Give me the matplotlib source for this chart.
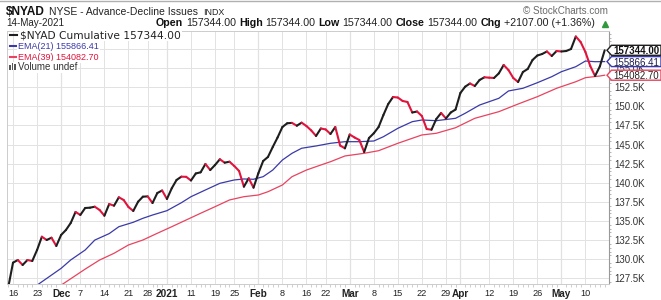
import matplotlib.pyplot as plt
import numpy as np
import pandas as pd
from matplotlib.collections import LineCollection
from matplotlib.patches import Polygon, Rectangle
from matplotlib.lines import Line2D

# trading sessions 13-Nov-2020 .. 14-May-2021
holidays = ['2020-11-26', '2020-12-25', '2021-01-01', '2021-01-18', '2021-02-15', '2021-04-02']
dates = pd.bdate_range('2020-11-13', '2021-05-14')
dates = dates[~dates.isin(pd.to_datetime(holidays))]

# $NYAD cumulative close, in thousands
close = [126.3, 129.54, 129.89, 129.24, 129.89, 129.76, 131.2, 132.94, 132.51, 132.81,
         131.73, 133.17, 133.82, 134.74, 136.18, 135.79, 136.70, 136.74, 136.87, 136.44,
         135.69, 137.22, 137.00, 138.10, 137.75, 136.83, 136.31, 137.52, 138.18, 138.22,
         137.35, 138.66, 138.99, 137.88, 139.28, 140.37, 140.80, 140.78, 140.30, 141.22,
         141.37, 142.46, 141.67, 142.33, 143.08, 142.63, 142.76, 142.20, 141.54, 139.49,
         140.59, 139.36, 141.24, 142.85, 143.38, 144.69, 145.93, 147.30, 147.79, 147.84,
         147.47, 147.87, 147.43, 146.85, 146.13, 147.11, 146.98, 146.39, 147.30, 144.88,
         144.51, 146.32, 145.93, 145.60, 144.03, 145.86, 146.48, 147.30, 148.87, 150.31,
         151.23, 151.16, 150.71, 150.58, 149.20, 149.33, 148.74, 147.04, 146.95, 148.35,
         149.14, 148.42, 149.20, 149.59, 151.75, 152.58, 153.00, 152.67, 153.46, 153.81,
         153.76, 153.72, 154.33, 155.42, 154.76, 153.72, 153.19, 154.50, 154.90, 156.07,
         156.66, 156.86, 157.19, 156.60, 157.25, 157.19, 157.25, 157.51, 159.15, 158.43,
         157.12, 155.29, 153.98, 155.237, 157.344]

# EMA(21) (session number, value in thousands)
ema21_pos = [6, 11, 13, 16, 18, 21, 23, 26, 28, 30, 33, 36, 38, 41, 44, 47, 49, 51, 53, 55,
             57, 59, 61, 64, 67, 70, 73, 76, 78, 81, 84, 86, 89, 93, 95, 98, 102, 104, 107, 110,
             113, 115, 118, 120, 122, 124]
ema21 = [126.6, 128.8, 129.9, 131.2, 132.5, 133.35, 134.25, 134.83, 135.35, 135.78,
         136.35, 137.39, 138.18, 139.06, 139.93, 140.37, 140.5, 140.46, 140.8, 141.67,
         142.98, 143.86, 144.52, 144.82, 145.17, 145.38, 145.38, 145.47, 146.03, 147.13,
         148.0, 148.22, 148.13, 148.44, 149.1, 150.18, 151.06, 152.02, 152.37, 153.1,
         153.89, 154.54, 155.2, 155.94, 155.85, 155.86641]

# EMA(39)
ema39_pos = [11, 16, 19, 22, 25, 28, 31, 34, 37, 40, 43, 46, 49, 52, 54, 57, 59, 62, 65, 67,
             70, 74, 77, 81, 86, 89, 93, 97, 102, 106, 110, 114, 118, 120, 123, 124]
ema39 = [126.6, 128.7, 129.89, 130.77, 131.86, 132.51, 133.39, 134.25, 135.13, 136.01,
         136.87, 137.75, 138.18, 138.4, 138.83, 139.71, 140.8, 141.67, 142.33, 142.76,
         143.51, 143.86, 144.2, 145.17, 146.26, 146.48, 147.21, 148.44, 149.31, 150.31,
         151.27, 152.37, 153.23, 153.76, 153.98, 154.0827]

tick_dates = ['2020-11-16', '2020-11-23', '2020-12-01', '2020-12-07', '2020-12-14', '2020-12-21',
              '2020-12-28', '2021-01-04', '2021-01-11', '2021-01-19', '2021-01-25', '2021-02-01',
              '2021-02-08', '2021-02-16', '2021-02-22', '2021-03-01', '2021-03-08', '2021-03-15',
              '2021-03-22', '2021-03-29', '2021-04-01', '2021-04-12', '2021-04-19', '2021-04-26',
              '2021-05-03', '2021-05-10']
tick_labels = ['16', '23', 'Dec', '7', '14', '21', '28', '2021', '11', '19', '25', 'Feb', '8',
               '16', '22', 'Mar', '8', '15', '22', '29', 'Apr', '12', '19', '26', 'May', '10']
bold_labels = ['Dec', '2021', 'Feb', 'Mar', 'Apr', 'May']
y_ticks = [127.5, 130.0, 132.5, 135.0, 137.5, 140.0, 142.5, 145.0, 147.5, 150.0, 152.5, 155.0, 157.5]
y_labels = ['127.5K', '130.0K', '132.5K', '135.0K', '137.5K', '140.0K', '142.5K', '145.0K',
            '147.5K', '150.0K', '152.5K', '155.0K', '']  # 157.5K sits under the close tag

W, H = 661, 300
BLACK = '#1e1e1e'
RED = '#e0143c'
BLUE = '#3a3aa8'
PINK = '#e8435f'
FONT = 'Liberation Sans'


def fx(x):
    return x / W


def fy(y):
    return 1 - y / H


fig = plt.figure(figsize=(W / 100, H / 100), dpi=100)
ax = fig.add_axes([7 / W, 16 / H, 602 / W, 253 / H])

pos = np.arange(len(dates))
pts = np.column_stack([pos, close])
segs = np.stack([pts[:-1], pts[1:]], axis=1)
cols = np.where(np.diff(close) < 0, RED, BLACK)
ax.add_collection(LineCollection(segs, colors=cols, linewidths=1.5,
                                 capstyle='round', joinstyle='round', zorder=4))
ax.plot(ema21_pos, ema21, color=BLUE, lw=0.9, zorder=3)
ax.plot(ema39_pos, ema39, color=PINK, lw=0.9, zorder=3)

ax.set_xlim(-0.25, 124.9)
ax.set_ylim(126.75, 159.87)

# x axis
tick_pos = [dates.get_loc(pd.Timestamp(d)) for d in tick_dates]
ax.set_xticks(tick_pos)
ax.set_xticklabels(tick_labels)
ax.set_xticks(pos, minor=True)
for lab in ax.get_xticklabels():
    lab.set_family(FONT)
    if lab.get_text() in bold_labels:
        lab.set_fontweight('bold')
        lab.set_fontsize(7.2)
    else:
        lab.set_fontsize(6.6)
ax.tick_params(axis='x', which='major', length=0, pad=3.5, labelcolor='#222')
ax.tick_params(axis='x', which='minor', length=1.8, color='#bbb', width=0.5)

# y axis on the right
ax.yaxis.tick_right()
ax.set_yticks(y_ticks)
ax.set_yticklabels(y_labels, family=FONT, fontsize=7)
ax.set_yticks(np.arange(127.0, 160.0, 0.5), minor=True)
ax.tick_params(axis='y', which='major', length=0, pad=3.5, labelcolor='#333')
ax.tick_params(axis='y', which='minor', length=1.5, color='#aaa', width=0.6)

ax.grid(True, which='major', color='#e2e2e2', lw=0.7)
for p, t in zip(tick_pos, tick_labels):
    if t in bold_labels:
        ax.axvline(p, color='#c8c8c8', lw=0.8, zorder=1)
for side in ['top', 'left', 'bottom']:
    ax.spines[side].set_color('#cccccc')
    ax.spines[side].set_linewidth(0.7)
ax.spines['right'].set_color('#999999')
ax.spines['right'].set_linewidth(0.8)

r = fig.canvas.get_renderer()


def chain(parts, x0, y, size, target=None, family=FONT):
    # parts: (text, weight, color); laid out left to right, fitted to target width
    def place(sz):
        items = []
        x = x0
        gap = 0.28 * sz * 100 / 72
        for s, w, c in parts:
            t = fig.text(fx(x), fy(y), s, fontsize=sz, fontweight=w, color=c,
                         family=family, va='baseline', ha='left')
            x = t.get_window_extent(r).x1 + gap
            items.append(t)
        return items, x - gap - x0
    items, width = place(size)
    if target:
        for t in items:
            t.remove()
        items, width = place(size * target / width)
    return items


def fit_text(s, x, y, target, size, ha='left', **kw):
    t = fig.text(fx(x), fy(y), s, fontsize=size, ha=ha, va='baseline', **kw)
    w = t.get_window_extent(r).width
    t.set_fontsize(size * target / w)
    return t


# header
chain([('$NYAD', 'bold', '#111')], 6, 15, 8.3, target=39)
fit_text('NYSE - Advance-Decline Issues', 49.3, 15, 149, 7.5, family=FONT, color='#222')
fit_text('INDX', 202.7, 15, 21.3, 6.4, family=FONT, color='#222')
fit_text(dates[-1].strftime('%d-%b-%Y'), 6, 26.5, 58, 7.1, family=FONT, color='#222')

last = close[-1] * 1000
prev = close[-2] * 1000
chg = last - prev
v = f'{last:.2f}'
chain([('Open', 'bold', '#111'), (v, 'normal', '#222'),
       ('High', 'bold', '#111'), (v, 'normal', '#222'),
       ('Low', 'bold', '#111'), (v, 'normal', '#222'),
       ('Close', 'bold', '#111'), (v, 'normal', '#222'),
       ('Chg', 'bold', '#111'), (f'{chg:+.2f} ({chg / prev * 100:+.2f}%)', 'normal', '#222')],
      155.7, 26.5, 7.2, target=442)
fig.add_artist(Line2D([fx(605)], [fy(23.5)], marker='^', markersize=4.2,
                      color='#2f9a3c', transform=fig.transFigure))
fit_text('\u00a9 StockCharts.com', 608.3, 14, 85.6, 7.2, ha='right', family=FONT, color='#6a6a6a')
fig.add_artist(Line2D([0, 1], [fy(0.8), fy(0.8)], color='#b0b0b0', lw=1, transform=fig.transFigure))

# legend block
wb = dict(facecolor='white', edgecolor='none', pad=0.6)
fig.add_artist(Line2D([fx(10), fx(17)], [fy(35.3), fy(35.3)], color=BLACK, lw=1.5,
                      transform=fig.transFigure))
t = fit_text(f'$NYAD Cumulative {last:.2f}', 20, 38.3, 160, 7.4, family='DejaVu Sans', color='#222')
t.set_bbox(wb)
fig.add_artist(Line2D([fx(10), fx(17)], [fy(45.8), fy(45.8)], color=BLUE, lw=1.5,
                      transform=fig.transFigure))
t = fit_text(f'EMA(21) {ema21[-1] * 1000:.2f}', 18.3, 49, 81, 7.2, family=FONT, color=BLUE)
t.set_bbox(wb)
fig.add_artist(Line2D([fx(10), fx(17)], [fy(56.8), fy(56.8)], color=PINK, lw=1.5,
                      transform=fig.transFigure))
t = fit_text(f'EMA(39) {ema39[-1] * 1000:.2f}', 18.3, 60, 81, 7.2, family=FONT, color=RED)
t.set_bbox(wb)
t = fit_text('Volume undef', 18, 70, 60, 7.2, family=FONT, color='#333')
t.set_bbox(wb)
fig.add_artist(Rectangle((fx(8), fy(70)), 11 / W, 8 / H, facecolor='white', edgecolor='none',
                         transform=fig.transFigure))
for bx, bh in [(9, 5), (11.6, 7), (14.2, 6)]:
    fig.add_artist(Rectangle((fx(bx), fy(70)), 1.8 / W, bh / H, facecolor='#555', edgecolor='none',
                             transform=fig.transFigure))

# last value tags on the right axis
for val, ec, weight, tc in [(close[-1], BLACK, 'bold', '#111'),
                            (ema21[-1], BLUE, 'normal', '#1c1c50'),
                            (ema39[-1], PINK, 'normal', '#222')]:
    yc = ax.transData.transform((0, val))[1]
    ypx = H - yc
    poly = [(fx(607), fy(ypx)), (fx(611.5), fy(ypx - 5)), (fx(661), fy(ypx - 5)),
            (fx(661), fy(ypx + 5)), (fx(611.5), fy(ypx + 5))]
    fig.add_artist(Polygon(poly, closed=True, facecolor='white', edgecolor=ec, lw=1,
                           transform=fig.transFigure))
    fig.text(fx(613), fy(ypx), f'{val * 1000:.2f}', fontsize=7, fontweight=weight, color=tc,
             family=FONT, va='center_baseline', ha='left')

fig.savefig('out.png', dpi=100)
